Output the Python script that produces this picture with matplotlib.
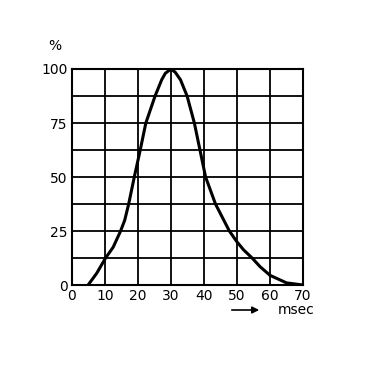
import numpy as np
from matplotlib import pyplot as plt

# values (msec, %)
time_ms = [4.9, 7.5, 10.2, 12.5, 14.75, 16.0, 17.2, 18.9, 20.7, 22.4, 25.2, 27.2, 28.3, 30,
           31.3, 32.9, 34.9, 37.1, 38.8, 40.5, 43.5, 47.7, 50, 52, 54.6, 57, 60, 65, 70]
percent = [0, 5.4, 12.5, 17.5, 25, 30, 37.5, 50, 62.5, 75, 87.5, 95, 98, 100,
           98.5, 95, 87.5, 75, 62.5, 50, 37.5, 25, 20, 16.3, 12.5, 8.5, 4.5, 1, 0]

x_ticks = [0, 10, 20, 30, 40, 50, 60, 70]
y_ticks = [0, 25, 50, 75, 100]
y_grid = [12.5, 37.5, 62.5, 87.5]

fig = plt.figure(figsize=(3.65, 3.68), dpi=100)
ax = fig.add_axes([0.197, 0.2255, 0.633, 0.587])

ax.plot(time_ms, percent, color='black', lw=2.2, solid_joinstyle='round',
        solid_capstyle='round', zorder=3)

ax.set_xlim(0, 70)
ax.set_ylim(0, 100)
ax.set_xticks(x_ticks)
ax.set_yticks(y_ticks)
ax.set_yticks(y_grid, minor=True)
ax.tick_params(length=0, labelsize=10, pad=3)
ax.tick_params(which='minor', length=0)
ax.grid(True, which='both', color='black', lw=1.3)
for s in ax.spines.values():
    s.set_linewidth(1.5)

fig.text(0.15, 0.875, '%', fontsize=10, ha='center', va='center')
fig.text(0.81, 0.158, 'msec', fontsize=10, ha='center', va='center')
ax.annotate('', xy=(262, 58), xycoords='figure pixels', xytext=(229, 58),
            arrowprops=dict(arrowstyle='-|>', color='black', lw=1.2, mutation_scale=10))

fig.savefig('out.png', dpi=100)
